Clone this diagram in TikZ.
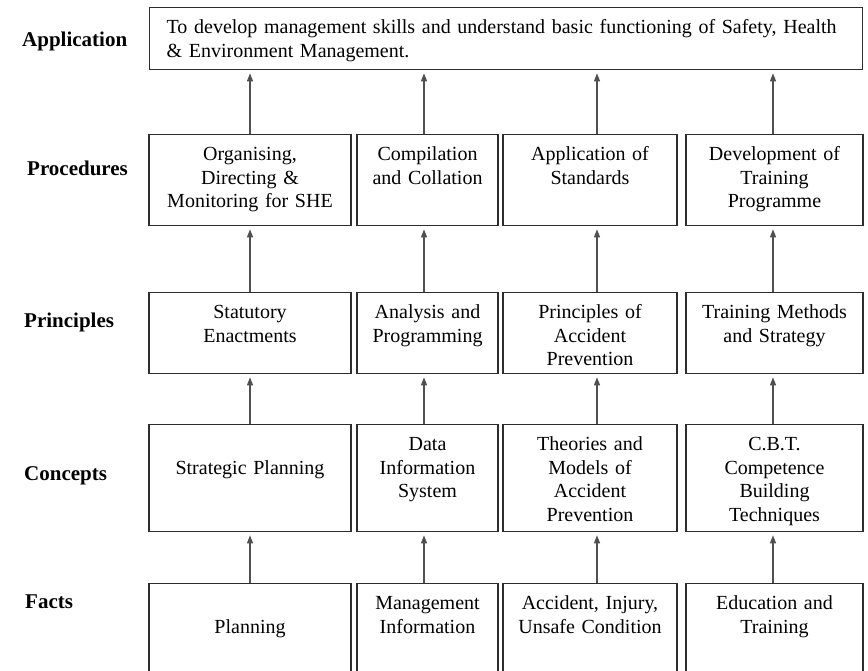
\documentclass[tikz,border=0pt]{standalone}
\usepackage{fontspec}
\setmainfont{Liberation Serif}
\usetikzlibrary{arrows.meta}
\definecolor{boxline}{RGB}{45,45,45}
\definecolor{arrowline}{RGB}{80,80,80}
\newcommand{\cellfont}{\fontsize{20}{23.5}\selectfont}
\newcommand{\levelfont}{\fontsize{21}{24}\selectfont\bfseries}

\begin{document}
\begin{tikzpicture}[x=1pt,y=-1pt,
  cell/.style={draw=boxline,line width=1.3pt,anchor=north,align=center,text width=#1,
    inner xsep=3pt,inner ysep=6pt,text height=20pt,font=\cellfont},
  level/.style={anchor=base west,font=\levelfont,inner sep=0pt},
  up/.style={draw=arrowline,line width=1.2pt,-{Triangle[length=8pt,width=6pt]},shorten >=3pt}]
\useasboundingbox (0,0) rectangle (868,670);
\clip (0,0) rectangle (868,670);

% levels
\node[level] (lapp) at (22,46) {Application};
\node[level] (lproc) at (27,175) {Procedures};
\node[level] (lprin) at (24,327) {Principles};
\node[level] (lconc) at (24,480) {Concepts};
\node[level] (lfact) at (25,608) {Facts};

% application
\node[cell=679pt,anchor=north west,inner xsep=17pt,text depth=30pt,align=left] (app) at (149,7)
{\mbox{To develop management skills and understand basic functioning of Safety, Health}\\\& Environment Management.};

% procedures
\node[cell=196pt,text depth=59pt] (proc1) at (250,134) {Organising,\\Directing \&\\Monitoring for SHE};
\node[cell=135pt,text depth=59pt] (proc2) at (427.5,134) {Compilation\\and Collation};
\node[cell=168pt,text depth=59pt] (proc3) at (590,134) {Application of\\Standards};
\node[cell=171pt,text depth=59pt] (proc4) at (774.5,134) {Development of\\Training\\Programme};

% principles
\node[cell=196pt,text depth=49pt] (prin1) at (250,292) {Statutory\\Enactments};
\node[cell=135pt,text depth=49pt] (prin2) at (427.5,292) {Analysis and\\Programming};
\node[cell=168pt,text depth=49pt] (prin3) at (590,292) {Principles of\\Accident\\Prevention};
\node[cell=171pt,text depth=49pt] (prin4) at (774.5,292) {Training Methods\\and Strategy};

% concepts
\node[cell=196pt,text height=43.5pt,text depth=51.5pt] (conc1) at (250,424) {Strategic Planning};
\node[cell=135pt,text depth=75pt] (conc2) at (427.5,424) {Data\\Information\\System};
\node[cell=168pt,text depth=75pt] (conc3) at (590,424) {Theories and\\Models of\\Accident\\Prevention};
\node[cell=171pt,text depth=75pt] (conc4) at (774.5,424) {C.B.T.\\Competence\\Building\\Techniques};

% facts
\node[cell=196pt,text height=43.5pt,text depth=44.5pt] (fact1) at (250,583) {Planning};
\node[cell=135pt,text depth=68pt] (fact2) at (427.5,583) {Management\\Information};
\node[cell=168pt,text depth=68pt] (fact3) at (590,583) {Accident, Injury,\\Unsafe Condition};
\node[cell=171pt,text depth=68pt] (fact4) at (774.5,583) {Education and\\Training};

% arrows
\draw[up] (fact1) -- (conc1);
\draw[up] ([xshift=-3.5pt]fact2.north) -- ([xshift=-3.5pt]conc2.south);
\draw[up] ([xshift=7pt]fact3.north) -- ([xshift=7pt]conc3.south);
\draw[up] ([xshift=-1.5pt]fact4.north) -- ([xshift=-1.5pt]conc4.south);

\draw[up] (conc1) -- (prin1);
\draw[up] ([xshift=-3.5pt]conc2.north) -- ([xshift=-3.5pt]prin2.south);
\draw[up] ([xshift=7pt]conc3.north) -- ([xshift=7pt]prin3.south);
\draw[up] ([xshift=-1.5pt]conc4.north) -- ([xshift=-1.5pt]prin4.south);

\draw[up] (prin1) -- (proc1);
\draw[up] ([xshift=-3.5pt]prin2.north) -- ([xshift=-3.5pt]proc2.south);
\draw[up] ([xshift=7pt]prin3.north) -- ([xshift=7pt]proc3.south);
\draw[up] ([xshift=-1.5pt]prin4.north) -- ([xshift=-1.5pt]proc4.south);

\draw[up] (proc1.north) -- (proc1.north |- app.south);
\draw[up] ([xshift=-3.5pt]proc2.north) -- ([xshift=-3.5pt]proc2.north |- app.south);
\draw[up] ([xshift=7pt]proc3.north) -- ([xshift=7pt]proc3.north |- app.south);
\draw[up] ([xshift=-1.5pt]proc4.north) -- ([xshift=-1.5pt]proc4.north |- app.south);
\end{tikzpicture}
\end{document}
